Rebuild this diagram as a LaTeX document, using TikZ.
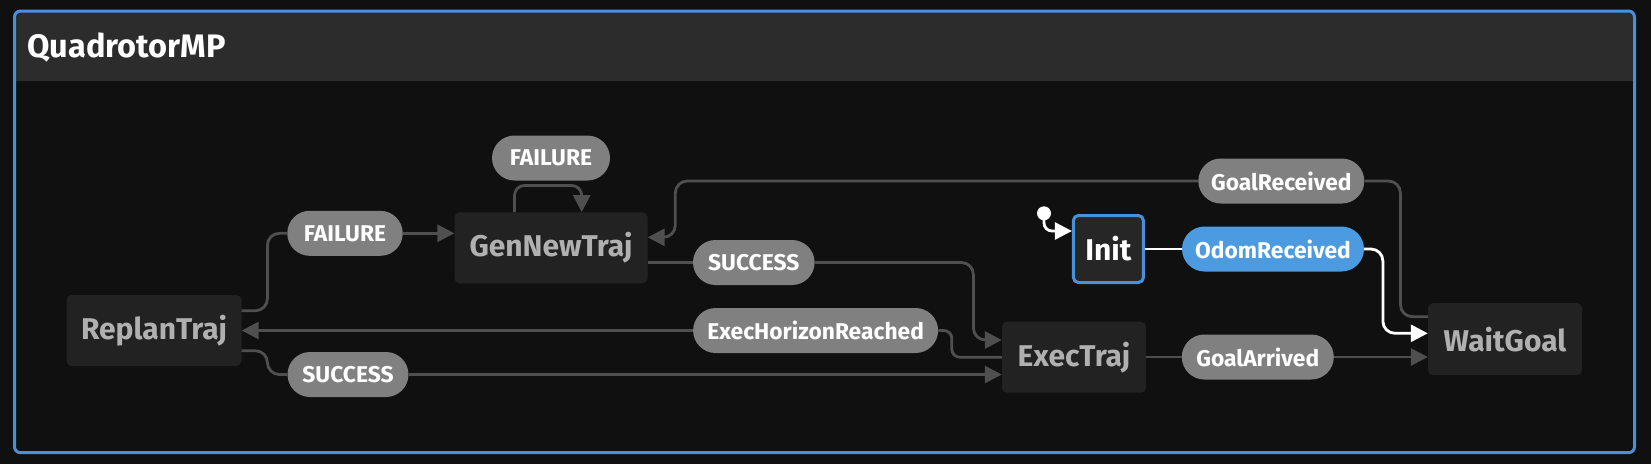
\documentclass[tikz,border=0pt]{standalone}
\usepackage{fontspec}
\setmainfont{Fira Sans}
\usetikzlibrary{arrows.meta,calc}
\definecolor{bg}{HTML}{101010}
\definecolor{hdr}{HTML}{2C2C2C}
\definecolor{frameblue}{HTML}{4A90D9}
\definecolor{boxfill}{HTML}{222222}
\definecolor{boxtext}{HTML}{B0B0B0}
\definecolor{pillfill}{HTML}{808080}
\definecolor{odomfill}{HTML}{4C9BE0}
\definecolor{edgec}{HTML}{4F4F4F}
\definecolor{initfill}{HTML}{262626}
\tikzset{
 state/.style={fill=boxfill, rounded corners=5pt, minimum height=71pt, inner sep=0pt, text=boxtext, font=\fontsize{30}{36}\selectfont\bfseries},
 pill/.style={fill=pillfill, rounded corners=22.5pt, minimum height=45pt, inner sep=0pt, text=white, font=\fontsize{22.8}{27}\selectfont\bfseries},
 edge/.style={draw=edgec, line width=2.8pt, rounded corners=12pt},
 wedge/.style={draw=white, line width=2.8pt, rounded corners=12pt},
 arr/.style={-{Triangle[length=17pt,width=17pt]}}
}
\begin{document}
\begin{tikzpicture}[x=1pt,y=-1pt]
\fill[bg] (0,0) rectangle (1651,464);
\path[use as bounding box] (0,0) rectangle (1651,464);
\begin{scope}
\clip[rounded corners=6pt] (14.5,11) rectangle (1634.5,452.7);
\fill[hdr] (14.5,11) rectangle (1634.5,80.7);
\end{scope}
\draw[frameblue, line width=3pt, rounded corners=6pt] (14.5,11) rectangle (1634.5,452.7);
\node[anchor=base west, inner sep=0pt, text=white, font=\fontsize{32.5}{38}\selectfont\bfseries] (title) at (27,57) {QuadrotorMP};

% states
\node[state, minimum width=175pt] (replan) at (154,330.5) {ReplanTraj};
\node[state, minimum width=193pt] (gen) at (551,247.8) {GenNewTraj};
\node[state, minimum width=144pt] (exec) at (1074,357.2) {ExecTraj};
\node[state, minimum width=154pt, minimum height=72pt] (wait) at (1505,339.2) {WaitGoal};
\node[state, draw=frameblue, line width=3pt, fill=initfill, text=white, minimum width=70pt, minimum height=67pt] (init) at (1108.4,249) {Init};
\node[circle, fill=white, inner sep=0pt, minimum size=14pt] (start) at (1044,213.3) {};

% labels
\node[pill, minimum width=118pt] (f1) at (551,158) {FAILURE};
\node[pill, minimum width=115.5pt] (f2) at (345,233.3) {FAILURE};
\node[pill, minimum width=121.6pt] (s1) at (753.8,262.5) {SUCCESS};
\node[pill, minimum width=245pt] (ehr) at (815.6,330.5) {ExecHorizonReached};
\node[pill, minimum width=121pt] (s2) at (348,374.5) {SUCCESS};
\node[pill, minimum width=166pt] (gr) at (1281.3,181) {GoalReceived};
\node[pill, fill=odomfill, minimum width=182pt] (or) at (1273,249) {OdomReceived};
\node[pill, minimum width=152pt] (ga) at (1257.8,357) {GoalArrived};

% edges
\draw[edge] ($(replan.east)+(0,-19.8)$) -- ++(25.7,0) |- (f2.west);
\draw[edge,arr] (f2.east) -- (f2.east -| gen.west);
\draw[edge,arr,rounded corners=10pt] ($(gen.north)+(-36.5,0)$) -- ++(0,-26.6) -| ($(gen.north)+(30.7,0)$);
\draw[edge] (s1.west -| gen.east) -- (s1.west);
\draw[edge,arr] (s1.east) -| ($(exec.west)+(-28.4,-17.2)$) -- ($(exec.west)+(0,-17.2)$);
\draw[edge,rounded corners=8pt] (exec.west) -- ++(-50,0) |- (ehr.east);
\draw[edge,arr] (ehr.west) -- (ehr.west -| replan.east);
\draw[edge] ($(replan.east)+(0,20.2)$) -- ++(25.7,0) |- (s2.west);
\draw[edge,arr] (s2.east) -- (s2.east -| exec.west);
\draw[edge] (ga.west -| exec.east) -- (ga.west);
\draw[edge,arr] (ga.east) -- (ga.east -| wait.west);
\draw[edge] ($(wait.west)+(0,-22.5)$) -- ++(-27.4,0) |- (gr.east);
\draw[edge,arr] (gr.west) -| ($(gen.east)+(27.6,-10.5)$) -- ($(gen.east)+(0,-10.5)$);
\draw[wedge,arr,rounded corners=8pt] (start.center) |- ($(init.west)+(0,-18)$);
\draw[wedge] (or.west -| init.east) -- (or.west);
\draw[wedge,arr] (or.east) -- ++(18.7,0) |- ($(wait.west)+(0,-5.9)$);
\end{tikzpicture}
\end{document}
